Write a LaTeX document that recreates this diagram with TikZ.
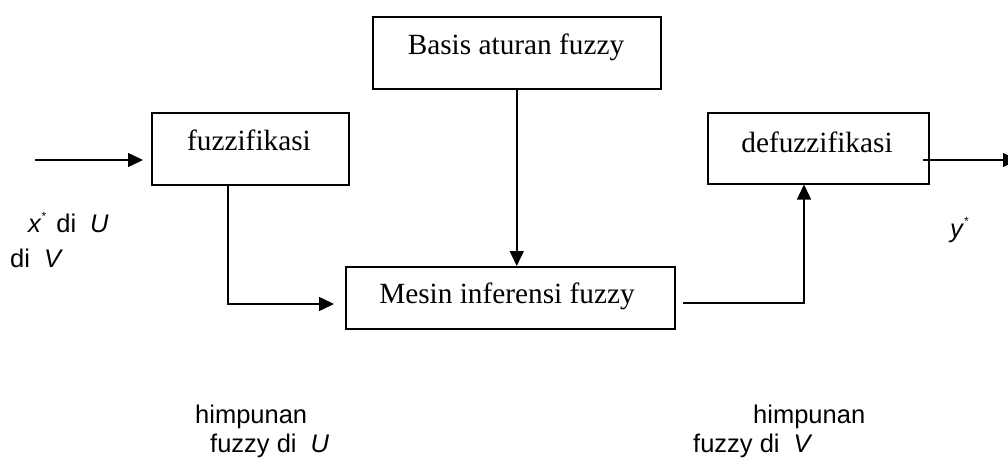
\documentclass[tikz,border=0pt]{standalone}
\usepackage{fontspec}
\setmainfont{Liberation Serif}
\newfontfamily\labfont{Liberation Sans}
\usetikzlibrary{arrows.meta}
\newcommand{\astsup}{\raisebox{12pt}{\fontsize{12}{12}\selectfont *}}
\newcommand{\wsp}{\hspace{14pt}}
\begin{document}
\begin{tikzpicture}[x=1pt,y=-1pt,
  box/.style={draw, line width=1.5pt, inner sep=0pt, anchor=north west},
  boxtext/.style={anchor=base, inner sep=0pt, font=\fontsize{29.3}{31}\selectfont},
  lab/.style={anchor=base west, inner sep=0pt, font=\labfont\fontsize{25.5}{27}\selectfont},
  conn/.style={line width=1.5pt},
  arr/.style={conn, -{Triangle[length=15pt,width=14pt]}}]
\useasboundingbox (0,0) rectangle (1008,469);
% boxes
\node[box, minimum width=288, minimum height=72] (basis) at (372,16) {};
\node[box, minimum width=197, minimum height=72] (fuzz) at (151,112) {};
\node[box, minimum width=221, minimum height=71] (defuzz) at (707,112) {};
\node[box, minimum width=329, minimum height=62] (mesin) at (345,266) {};
% box texts
\node[boxtext] (tbasis) at (516,54) {Basis aturan fuzzy};
\node[boxtext] (tfuzz) at (249,150) {fuzzifikasi};
\node[boxtext] (tdefuzz) at (817,152) {defuzzifikasi};
\node[boxtext] (tmesin) at (507,303) {Mesin inferensi fuzzy};
% connectors
\coordinate (in) at (35,160);
\draw[arr, shorten >=8pt] (in) -- (fuzz.west |- in);
\coordinate (f2) at (228,304);
\draw[arr, shorten >=11pt] (fuzz.south -| f2) -- (f2) -- (mesin.west |- f2);
\draw[arr] (basis.south) -- (mesin.north -| basis.south);
\coordinate (m1) at (683,303);
\coordinate (d1) at (804,303);
\draw[arr] (m1) -- (d1) -- (defuzz.south -| d1);
\coordinate (o1) at (923,160);
\coordinate (o2) at (1018,160);
\draw[arr] (o1) -- (o2);
% labels
\node[lab] (lx) at (28,232) {\textit{x}\astsup\hspace{10pt}di\wsp\textit{U}};
\node[lab] (lv) at (10,267) {di\wsp\textit{V}};
\node[lab] (ly) at (950,237) {\textit{y}\astsup};
\node[lab] (h1) at (195,423) {himpunan};
\node[lab] (fl1) at (210,452) {fuzzy di\wsp\textit{U}};
\node[lab] (h2) at (753,423) {himpunan};
\node[lab] (fl2) at (693,452) {fuzzy di\wsp\textit{V}};
\end{tikzpicture}
\end{document}
